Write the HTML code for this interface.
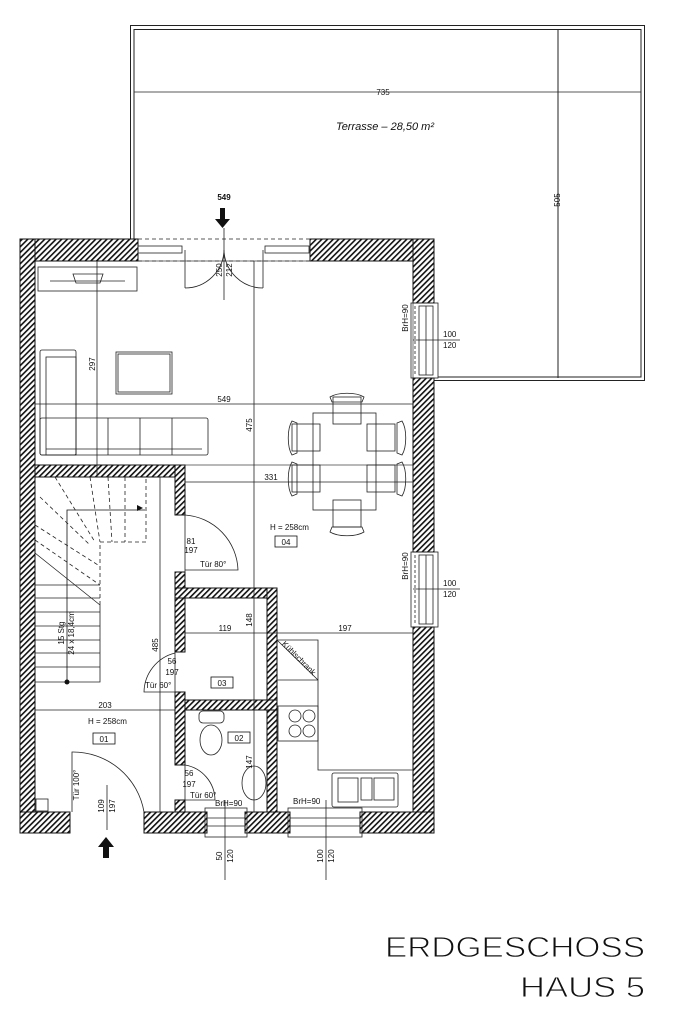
<!DOCTYPE html>
<html><head><meta charset="utf-8"><style>
html,body{margin:0;padding:0;background:#fff}
svg{display:block}
text{font-family:"Liberation Sans",sans-serif;fill:#111}
.d{font-family:"Liberation Sans Narrow","Liberation Sans",sans-serif;font-size:8px}
</style></head><body>
<svg width="683" height="1024" viewBox="0 0 683 1024" xmlns="http://www.w3.org/2000/svg">
<defs>
<pattern id="h" width="4" height="4" patternUnits="userSpaceOnUse" patternTransform="rotate(45)">
<rect width="4" height="4" fill="#fff"/><rect width="1.6" height="4" fill="#111"/>
</pattern>
</defs>
<g fill="none" stroke="#222" stroke-width="1">
<!-- terrace -->
<path d="M130.5 239V25.5H644.5V380.5H434"/>
<path d="M134 239V29.5H641V377H438"/>
<line x1="558" y1="29" x2="558" y2="378"/>
<line x1="134" y1="92" x2="641" y2="92" stroke-width="0.8"/>
</g>
<text x="383" y="95" class="d" text-anchor="middle" font-size="8">735</text>
<text x="385" y="130" font-size="11" font-style="italic" text-anchor="middle">Terrasse  –  28,50  m²</text>
<text x="560" y="200" class="d" transform="rotate(-90 560 200)" text-anchor="middle">505</text>
<text x="224" y="200" class="d" text-anchor="middle" font-weight="bold">549</text>
<path d="M220 208h5v11h5l-7.5 9-7.5-9h5z" fill="#111"/>

<!-- walls -->
<g fill="url(#h)" stroke="#111" stroke-width="1">
<rect x="20" y="239" width="118" height="22"/>
<rect x="310" y="239" width="124" height="22"/>
<rect x="20" y="239" width="15" height="594"/>
<rect x="413" y="239" width="21" height="64"/>
<rect x="413" y="378" width="21" height="174"/>
<rect x="413" y="627" width="21" height="206"/>
<rect x="20" y="812" width="50" height="21"/>
<rect x="144" y="812" width="63" height="21"/>
<rect x="245" y="812" width="45" height="21"/>
<rect x="360" y="812" width="74" height="21"/>
<rect x="35" y="465" width="150" height="12"/>
<rect x="175" y="465" width="10" height="50"/>
<rect x="175" y="572" width="10" height="80"/>
<rect x="175" y="588" width="102" height="10"/>
<rect x="267" y="588" width="10" height="224"/>
<rect x="175" y="700" width="102" height="10"/>
<rect x="175" y="692" width="10" height="73"/>
<rect x="175" y="800" width="10" height="12"/>
</g>
<rect x="35" y="261" width="378" height="204" fill="none" stroke="#111" stroke-width="0.6"/>

<g fill="none" stroke="#222" stroke-width="0.8">
<line x1="138" y1="239" x2="310" y2="239" stroke-dasharray="4 3"/>
<line x1="138" y1="261" x2="310" y2="261" stroke-dasharray="4 3"/>
<rect x="138" y="246" width="44" height="7"/>
<rect x="265" y="246" width="44" height="7"/>
<path d="M185 250V288M263 250V288M185 288A39 39 0 0 0 224 250M263 288A39 39 0 0 1 224 250"/>
<line x1="224" y1="228" x2="224" y2="300"/>
<rect x="411" y="303" width="27" height="75"/>
<rect x="419" y="306" width="14" height="69"/>
<line x1="426" y1="306" x2="426" y2="375"/>
<line x1="415" y1="306" x2="415" y2="375" stroke-dasharray="3 2"/>
<line x1="413" y1="340" x2="460" y2="340"/>
<rect x="411" y="552" width="27" height="75"/>
<rect x="419" y="555" width="14" height="69"/>
<line x1="426" y1="555" x2="426" y2="624"/>
<line x1="415" y1="555" x2="415" y2="624" stroke-dasharray="3 2"/>
<line x1="413" y1="589" x2="460" y2="589"/>
<rect x="205" y="808" width="42" height="29"/>
<line x1="207" y1="818" x2="245" y2="818"/><line x1="207" y1="826" x2="245" y2="826"/>
<line x1="225" y1="800" x2="225" y2="880"/>
<rect x="288" y="808" width="74" height="29"/>
<line x1="290" y1="818" x2="360" y2="818"/><line x1="290" y1="826" x2="360" y2="826"/>
<line x1="326" y1="800" x2="326" y2="880"/>
<path d="M72 812V752A72 72 0 0 1 144 812"/>
<line x1="107" y1="785" x2="107" y2="830"/>
<rect x="38" y="267" width="99" height="24"/>
<path d="M50 281h75M73 274h30l-3 9h-24z"/>
<rect x="40" y="350" width="36" height="105" rx="2"/>
<rect x="46" y="357" width="30" height="98"/>
<rect x="40" y="418" width="168" height="37" rx="2"/>
<path d="M76 418v37M108 418v37M140 418v37M172 418v37M46 449h156"/>
<rect x="116" y="352" width="56" height="42"/>
<rect x="118" y="354" width="52" height="38"/>
<rect x="313" y="413" width="63" height="97"/>
<g>
<rect x="333" y="397" width="28" height="27"/><path d="M330 397c8-5 26-5 34 0l-2 5h-30z"/>
<rect x="333" y="500" width="28" height="27"/><path d="M330 532c8 5 26 5 34 0l-2-5h-30z"/>
<rect x="292" y="424" width="28" height="27"/><path d="M292 421c-5 8-5 26 0 34l5-2v-30z"/>
<rect x="292" y="465" width="28" height="27"/><path d="M292 462c-5 8-5 26 0 34l5-2v-30z"/>
<rect x="367" y="424" width="28" height="27"/><path d="M402 421c5 8 5 26 0 34l-5-2v-30z"/>
<rect x="367" y="465" width="28" height="27"/><path d="M402 462c5 8 5 26 0 34l-5-2v-30z"/>
</g>
<path d="M100 605V682H35M35 585H100M35 598H100M35 612H100M35 626H100M35 640H100M35 653H100M35 667H100M35 553L100 605"/>
<path d="M100 605V542H146V477M90 477L100 542M108 477L112 542M125 477L125 542M55 477L95 542M40 497L90 545M35 525L98 565M35 540L100 585" stroke-dasharray="4 3"/>
<path d="M67 682V510H145" stroke="#111"/>
<path d="M185 515V572M185 515A57 57 0 0 1 238 570H185"/>
<path d="M175 652V692H144A41 41 0 0 1 175 653"/>
<path d="M185 765V800H215A36 36 0 0 0 185 765"/>
<line x1="35" y1="404" x2="413" y2="404"/>
<line x1="97" y1="261" x2="97" y2="477"/>
<line x1="254" y1="261" x2="254" y2="812"/>
<line x1="185" y1="482" x2="413" y2="482"/>
<line x1="185" y1="633" x2="413" y2="633"/>
<line x1="160" y1="477" x2="160" y2="812"/>
<line x1="35" y1="710" x2="175" y2="710"/>
<path d="M277 640H318V770H413M277 680H318M277 640L318 680"/>
<rect x="278" y="706" width="40" height="35"/>
<circle cx="295" cy="716" r="6"/><circle cx="309" cy="716" r="6"/><circle cx="295" cy="731" r="6"/><circle cx="309" cy="731" r="6"/>
<rect x="332" y="773" width="66" height="34" rx="2"/>
<rect x="338" y="778" width="20" height="24"/>
<rect x="374" y="778" width="20" height="22"/><rect x="361" y="778" width="11" height="22"/>
<rect x="199" y="711" width="25" height="12" rx="4"/>
<ellipse cx="211" cy="740" rx="11" ry="15"/>
<ellipse cx="254" cy="783" rx="12" ry="17"/>
<rect x="36" y="799" width="12" height="12"/>
</g>
<g fill="none" stroke="#111" stroke-width="0.8">
<rect x="275" y="536" width="22" height="11"/><rect x="93" y="733" width="22" height="11"/>
<rect x="211" y="677" width="22" height="11"/><rect x="228" y="732" width="22" height="11"/>
</g>
<g class="d">
<text x="286" y="545" text-anchor="middle" class="d">04</text>
<text x="104" y="742" text-anchor="middle" class="d">01</text>
<text x="222" y="686" text-anchor="middle" class="d">03</text>
<text x="239" y="741" text-anchor="middle" class="d">02</text>
<text x="270" y="530" class="d">H = 258cm</text>
<text x="88" y="724" class="d">H = 258cm</text>
<text x="224" y="402" class="d" text-anchor="middle">549</text>
<text x="271" y="480" class="d" text-anchor="middle">331</text>
<text x="225" y="631" class="d" text-anchor="middle">119</text>
<text x="345" y="631" class="d" text-anchor="middle">197</text>
<text x="105" y="708" class="d" text-anchor="middle">203</text>
<text x="95" y="364" class="d" transform="rotate(-90 95 364)" text-anchor="middle">297</text>
<text x="252" y="425" class="d" transform="rotate(-90 252 425)" text-anchor="middle">475</text>
<text x="252" y="620" class="d" transform="rotate(-90 252 620)" text-anchor="middle">148</text>
<text x="252" y="762" class="d" transform="rotate(-90 252 762)" text-anchor="middle">147</text>
<text x="158" y="645" class="d" transform="rotate(-90 158 645)" text-anchor="middle">485</text>
<text x="222" y="270" class="d" transform="rotate(-90 222 270)" text-anchor="middle">250</text>
<text x="232" y="270" class="d" transform="rotate(-90 232 270)" text-anchor="middle">212</text>
<text x="408" y="318" class="d" transform="rotate(-90 408 318)" text-anchor="middle">BrH=90</text>
<text x="408" y="566" class="d" transform="rotate(-90 408 566)" text-anchor="middle">BrH=90</text>
<text x="443" y="337" class="d">100</text><text x="443" y="348" class="d">120</text>
<text x="443" y="586" class="d">100</text><text x="443" y="597" class="d">120</text>
<text x="191" y="544" class="d" text-anchor="middle">81</text><text x="191" y="553" class="d" text-anchor="middle">197</text>
<text x="200" y="567" class="d">Tür 80°</text>
<text x="172" y="664" class="d" text-anchor="middle">56</text><text x="172" y="675" class="d" text-anchor="middle">197</text>
<text x="145" y="688" class="d">Tür 60°</text>
<text x="189" y="776" class="d" text-anchor="middle">56</text><text x="189" y="787" class="d" text-anchor="middle">197</text>
<text x="190" y="798" class="d">Tür 60°</text>
<text x="215" y="806" class="d">BrH=90</text>
<text x="293" y="804" class="d">BrH=90</text>
<text x="79" y="785" class="d" transform="rotate(-90 79 785)" text-anchor="middle">Tür 100°</text>
<text x="104" y="806" class="d" transform="rotate(-90 104 806)" text-anchor="middle">109</text>
<text x="115" y="806" class="d" transform="rotate(-90 115 806)" text-anchor="middle">197</text>
<text x="222" y="856" class="d" transform="rotate(-90 222 856)" text-anchor="middle">50</text>
<text x="233" y="856" class="d" transform="rotate(-90 233 856)" text-anchor="middle">120</text>
<text x="323" y="856" class="d" transform="rotate(-90 323 856)" text-anchor="middle">100</text>
<text x="334" y="856" class="d" transform="rotate(-90 334 856)" text-anchor="middle">120</text>
<text x="64" y="633" class="d" transform="rotate(-90 64 633)" text-anchor="middle">15 Stg</text>
<text x="74" y="633" class="d" transform="rotate(-90 74 633)" text-anchor="middle">24 x 18,4cm</text>
<text x="297" y="660" class="d" transform="rotate(45 297 660)" text-anchor="middle" font-size="7">Kühlschrank</text>
</g>
<circle cx="67" cy="682" r="2.5" fill="#111"/>
<path d="M143 508l-6-3v6z" fill="#111"/>
<path d="M103 858h6v-11h5l-8-10-8 10h5z" fill="#111"/>
<text x="385" y="957" font-size="29" textLength="260" lengthAdjust="spacingAndGlyphs" stroke="#fff" stroke-width="0.9">ERDGESCHOSS</text>
<text x="520" y="997" font-size="29" textLength="125" lengthAdjust="spacingAndGlyphs" stroke="#fff" stroke-width="0.9">HAUS 5</text>
</svg>
</body></html>
